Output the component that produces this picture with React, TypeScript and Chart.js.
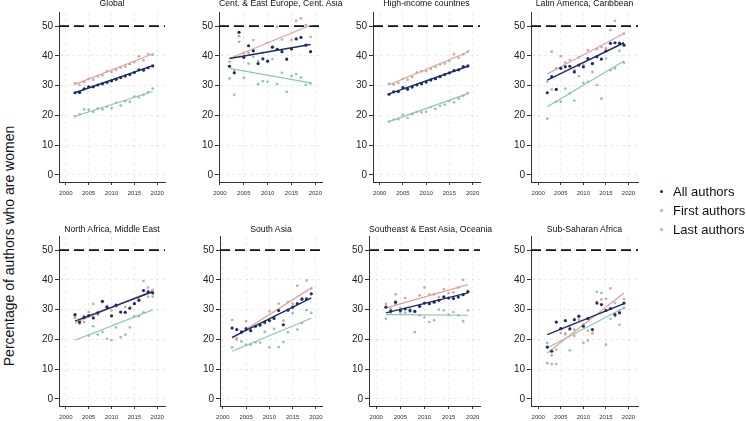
import React, { useEffect, useRef } from "react";
import { Chart, registerables } from "chart.js";

Chart.register(...registerables);

// ---------- data ----------
const years = [2002, 2003, 2004, 2005, 2006, 2007, 2008, 2009, 2010, 2011, 2012, 2013, 2014, 2015, 2016, 2017, 2018, 2019];
const fitYears = [2002, 2019];
const xTicks = [2000, 2005, 2010, 2015, 2020];
const yTicks = [0, 10, 20, 30, 40, 50];
const parityValue = 50;

const regions = [
  "Global",
  "Cent. & East Europe, Cent. Asia",
  "High-income countries",
  "Latin America, Caribbean",
  "North Africa, Middle East",
  "South Asia",
  "Southeast & East Asia, Oceania",
  "Sub-Saharan Africa",
];

const seriesNames = ["All authors", "First authors", "Last authors"];

const allAuthors = [
  [27.6, 27.7, 28.9, 29.6, 29.6, 30.2, 30.6, 31.1, 31.6, 32.1, 32.7, 33.2, 33.7, 34.4, 35.3, 35.2, 36.0, 36.6],
  [36.5, 34.3, 47.9, 39.5, 43.4, 41.7, 37.4, 39.0, 38.2, 42.9, 42.2, 41.4, 38.9, 42.3, 45.7, 46.2, 43.6, 41.4],
  [27.1, 27.9, 28.0, 29.3, 28.8, 29.5, 30.2, 30.6, 31.2, 31.9, 32.3, 33.0, 33.7, 34.3, 35.0, 35.3, 36.4, 36.6],
  [27.6, 33.0, 28.7, 35.8, 36.3, 36.5, 34.6, 36.9, 36.3, 39.1, 37.4, 39.7, 38.9, 41.6, 44.2, 44.4, 44.2, 43.6],
  [28.3, 25.8, 27.4, 28.0, 27.2, 28.9, 32.8, 30.8, 27.9, 31.5, 29.2, 29.1, 30.5, 32.0, 33.1, 36.4, 36.0, 35.6],
  [23.8, 23.3, 22.5, 23.6, 22.9, 24.4, 24.8, 25.8, 26.3, 27.0, 29.7, 24.9, 29.8, 30.8, 32.0, 33.5, 33.6, 35.3],
  [30.8, 29.5, 32.5, 29.7, 30.2, 29.7, 29.4, 31.1, 32.2, 32.0, 32.5, 33.1, 34.3, 33.9, 33.7, 34.2, 35.0, 36.0],
  [17.4, 16.0, 25.8, 23.6, 26.3, 23.5, 26.6, 27.8, 24.4, 27.0, 23.3, 32.2, 31.7, 29.7, 30.3, 28.3, 28.9, 32.2],
];

const firstAuthors = [
  [30.8, 30.2, 31.2, 32.3, 32.0, 33.1, 33.4, 34.8, 34.6, 35.3, 36.0, 36.4, 37.2, 37.9, 39.8, 38.5, 40.6, 40.4],
  [38.0, 35.0, 46.6, 40.8, 41.0, 45.3, 38.3, 41.0, 44.4, 43.0, 49.8, 45.5, 38.6, 45.3, 51.8, 52.6, 50.3, 46.4],
  [30.6, 30.4, 30.9, 32.3, 32.0, 33.0, 34.4, 34.8, 34.9, 35.6, 36.3, 37.1, 37.4, 38.3, 40.6, 39.4, 40.5, 41.5],
  [31.3, 41.4, 35.8, 39.9, 37.7, 38.6, 35.2, 39.5, 36.9, 41.9, 34.6, 42.2, 43.0, 42.5, 48.7, 51.8, 44.4, 47.5],
  [27.4, 25.5, 25.8, 29.2, 31.9, 28.3, 32.5, 31.3, 29.7, 31.1, 29.0, 30.9, 30.3, 32.0, 33.6, 39.6, 37.4, 36.6],
  [26.5, 20.4, 22.1, 26.1, 24.0, 24.3, 24.7, 25.4, 29.4, 27.4, 32.0, 26.3, 32.6, 32.0, 38.0, 33.9, 39.8, 37.1],
  [31.9, 30.3, 32.0, 30.6, 33.9, 30.2, 29.4, 34.8, 37.4, 35.0, 35.1, 34.2, 36.9, 35.5, 35.8, 37.4, 40.0, 36.4],
  [12.0, 11.7, 16.5, 23.6, 22.0, 24.4, 21.2, 26.6, 25.0, 19.6, 22.0, 32.6, 33.4, 33.6, 37.1, 32.2, 29.7, 33.6],
];

const lastAuthors = [
  [19.7, 20.3, 22.0, 21.9, 21.2, 22.3, 22.0, 22.9, 22.4, 24.2, 23.3, 24.7, 24.5, 26.3, 26.0, 26.9, 27.8, 29.0],
  [32.4, 26.9, 44.7, 32.6, 37.4, 39.7, 30.5, 31.5, 31.3, 38.9, 30.5, 34.3, 27.9, 33.2, 33.9, 32.7, 30.2, 30.7],
  [17.9, 18.6, 18.7, 20.2, 19.2, 20.4, 21.2, 21.0, 21.2, 22.8, 22.2, 23.2, 23.6, 24.8, 24.4, 25.6, 26.6, 27.5],
  [18.9, 28.7, 24.6, 24.6, 29.0, 27.4, 24.9, 33.2, 30.9, 31.3, 37.4, 30.2, 25.6, 39.1, 35.2, 35.8, 41.7, 37.7],
  [27.2, 25.2, 27.8, 21.2, 24.4, 21.6, 22.5, 20.2, 19.7, 24.0, 20.7, 21.6, 24.0, 27.8, 27.8, 29.1, 34.3, 34.4],
  [17.3, 19.9, 19.3, 18.2, 18.2, 19.0, 18.9, 22.5, 17.3, 23.5, 17.4, 19.1, 22.4, 28.8, 23.3, 25.5, 29.8, 28.9],
  [26.9, 29.0, 35.1, 28.9, 28.9, 29.2, 22.4, 28.1, 27.4, 25.8, 26.4, 30.0, 29.7, 28.3, 29.2, 28.1, 26.1, 29.7],
  [18.8, 14.6, 11.7, 22.1, 21.7, 16.3, 23.3, 27.8, 18.8, 22.9, 22.1, 36.0, 35.6, 18.2, 26.9, 27.8, 24.9, 30.6],
];

// fitted trend lines: values at 2002 and 2019
const allFit = [[27.6, 36.7], [39.1, 43.8], [27.2, 36.5], [31.8, 44.4], [26.1, 36.0], [20.7, 33.9], [28.9, 35.6], [21.6, 32.0]];
const firstFit = [[30.4, 40.6], [39.1, 50.3], [30.3, 41.3], [33.9, 47.5], [25.5, 36.5], [20.4, 37.3], [30.6, 38.4], [15.4, 35.6]];
const lastFit = [[19.7, 28.0], [35.8, 30.9], [17.9, 27.3], [22.9, 38.3], [19.7, 29.9], [16.0, 27.1], [28.3, 28.1], [17.1, 30.6]];

// ---------- styling / layout ----------
const FONT = "'Liberation Sans', Arial, Helvetica, sans-serif";
const NAVY = "#1d2b66";
const TAN = "#d5a59b";
const TEAL = "#8fc4b0";
const seriesColors = [NAVY, TAN, TEAL];
const AXIS = "#333333";
const GRID = "rgba(0,0,0,0.08)";

const Y_MIN = -2.4;
const Y_MAX = 54.5;
const AXIS_W = 30; // width reserved for y axis
const X_AXIS_H = 15;
const PAD_TOP = 12.7;
const PAD_RIGHT = 8;
const CANVAS_H = 197;

const panelLayout = [
  { left: 59, top: 0, xMin: 1998.5, xMax: 2021.7, w: 106 },
  { left: 219, top: 0, xMin: 1999.8, xMax: 2021.4, w: 103 },
  { left: 373, top: 0, xMin: 1998.55, xMax: 2021.6, w: 107 },
  { left: 531, top: 0, xMin: 1998.4, xMax: 2022.1, w: 107 },
  { left: 59, top: 224, xMin: 1998.5, xMax: 2021.7, w: 106 },
  { left: 220, top: 224, xMin: 1999.4, xMax: 2021.3, w: 102 },
  { left: 369, top: 224, xMin: 1998.5, xMax: 2021.5, w: 111 },
  { left: 531, top: 224, xMin: 1998.4, xMax: 2022.1, w: 107 },
];

function Panel({ index }: { index: number }) {
  const ref = useRef<HTMLCanvasElement | null>(null);
  const lay = panelLayout[index];

  useEffect(() => {
    if (!ref.current) return;
    const pts = (arr: number[]) => years.map((x, i) => ({ x, y: arr[i] }));
    const fit = (arr: number[]) => fitYears.map((x, i) => ({ x, y: arr[i] }));
    const series = [allAuthors[index], firstAuthors[index], lastAuthors[index]];
    const fits = [allFit[index], firstFit[index], lastFit[index]];

    const datasets: any[] = [];
    series.forEach((s, k) => {
      datasets.push({
        label: seriesNames[k],
        data: pts(s),
        showLine: false,
        pointRadius: k === 0 ? 1.6 : 1.35,
        pointBackgroundColor: seriesColors[k],
        pointBorderWidth: 0,
        order: k,
      });
      datasets.push({
        label: seriesNames[k] + " fit",
        data: fit(fits[k]),
        showLine: true,
        borderColor: seriesColors[k],
        borderWidth: k === 0 ? 1.4 : 1.2,
        pointRadius: 0,
        order: k + 0.5,
      });
    });
    datasets.push({
      label: "parity",
      data: [
        { x: lay.xMin, y: parityValue },
        { x: lay.xMax, y: parityValue },
      ],
      showLine: true,
      borderColor: "#111111",
      borderWidth: 1.7,
      borderDash: [10, 5],
      pointRadius: 0,
      order: 10,
    });

    const chart = new Chart(ref.current, {
      type: "scatter",
      data: { datasets },
      options: {
        animation: false,
        responsive: false,
        maintainAspectRatio: false,
        events: [],
        layout: { padding: { top: PAD_TOP, right: PAD_RIGHT, left: 0, bottom: 0 } },
        plugins: {
          legend: { display: false },
          tooltip: { enabled: false },
          title: { display: false },
        },
        scales: {
          x: {
            type: "linear",
            min: lay.xMin,
            max: lay.xMax,
            afterBuildTicks: (s: any) => {
              s.ticks = xTicks.map((v) => ({ value: v }));
            },
            afterFit: (s: any) => {
              s.height = X_AXIS_H;
            },
            grid: { color: GRID, tickColor: AXIS, tickLength: 3, lineWidth: 1 },
            border: { color: AXIS, width: 1, dash: [3, 3] },
            ticks: {
              font: { family: FONT, size: 6 },
              color: "#333",
              padding: 5,
              maxRotation: 0,
              autoSkip: false,
              callback: (v: any) => String(v),
            },
          },
          y: {
            type: "linear",
            min: Y_MIN,
            max: Y_MAX,
            afterBuildTicks: (s: any) => {
              s.ticks = yTicks.map((v) => ({ value: v }));
            },
            afterFit: (s: any) => {
              s.width = AXIS_W;
            },
            grid: { color: GRID, tickColor: AXIS, tickLength: 4, lineWidth: 1 },
            border: { color: AXIS, width: 1, dash: [3, 3] },
            ticks: {
              font: { family: FONT, size: 10 },
              color: "#222",
              padding: 2,
              autoSkip: false,
              callback: (v: any) => String(v),
            },
          },
        },
      },
    } as any);
    return () => chart.destroy();
  }, [index]);

  const cw = AXIS_W + lay.w + PAD_RIGHT;
  return (
    <>
      <canvas
        ref={ref}
        width={cw}
        height={CANVAS_H}
        style={{ position: "absolute", left: lay.left - AXIS_W, top: lay.top, width: cw, height: CANVAS_H }}
      />
      <div
        style={{
          position: "absolute",
          left: lay.left,
          width: lay.w,
          top: lay.top + (index < 4 ? -1.1 : 0.6),
          textAlign: "center",
          fontFamily: FONT,
          fontSize: 8.7,
          lineHeight: "8.7px",
          color: "#111",
          whiteSpace: "nowrap",
        }}
      >
        {regions[index]}
      </div>
    </>
  );
}

export default function App() {
  const legendY = [191.7, 210.7, 229.7];
  return (
    <div
      style={{
        position: "fixed",
        left: 0,
        top: 0,
        width: 746,
        height: 421,
        background: "#ffffff",
        overflow: "hidden",
      }}
    >
      {regions.map((_, i) => (
        <Panel key={i} index={i} />
      ))}
      <div
        style={{
          position: "absolute",
          left: 9,
          top: 246,
          transform: "translate(-50%, -50%) rotate(-90deg)",
          fontFamily: FONT,
          fontSize: 14,
          color: "#111",
          whiteSpace: "nowrap",
        }}
      >
        Percentage of authors who are women
      </div>
      {seriesNames.map((name, k) => (
        <div key={name}>
          <div
            style={{
              position: "absolute",
              left: 660.2,
              top: legendY[k] - 1.5,
              width: 3,
              height: 3,
              borderRadius: "50%",
              background: seriesColors[k],
            }}
          />
          <div
            style={{
              position: "absolute",
              left: 673,
              top: legendY[k] - 8,
              fontFamily: FONT,
              fontSize: 13,
              lineHeight: "16px",
              color: "#111",
              whiteSpace: "nowrap",
            }}
          >
            {name}
          </div>
        </div>
      ))}
    </div>
  );
}
